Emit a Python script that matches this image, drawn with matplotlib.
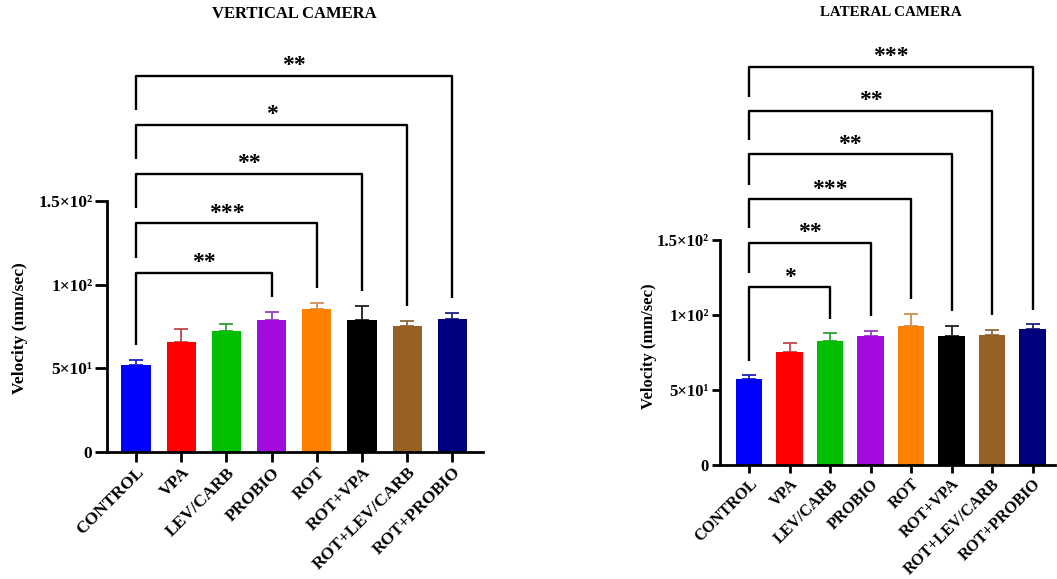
import matplotlib
matplotlib.use('Agg')
import matplotlib.pyplot as plt
import numpy as np

plt.rcParams['font.family'] = ['Liberation Serif', 'DejaVu Serif']
plt.rcParams['font.weight'] = 'bold'

groups = ['CONTROL', 'VPA', 'LEV/CARB', 'PROBIO', 'ROT', 'ROT+VPA', 'ROT+LEV/CARB', 'ROT+PROBIO']
bar_colors = ['#0000FF', '#FF0000', '#00BF00', '#A30BDE', '#FF8000', '#000000', '#956223', '#00007F']
err_colors = ['#2020C0', '#C04848', '#30A030', '#9040C0', '#D09050', '#202020', '#8A6A40', '#202080']

# vertical camera
vert_mean = [52.0, 65.9, 72.5, 78.9, 85.2, 78.9, 75.3, 79.5]
vert_sem = [3.0, 7.5, 4.0, 4.9, 4.0, 8.3, 3.1, 3.3]
vert_pairs = [3, 4, 5, 6, 7]            # each compared with CONTROL
vert_stars = ['**', '***', '**', '*', '**']
vert_levels = [107.0, 136.6, 166.0, 195.3, 224.6]

# lateral camera
lat_mean = [57.3, 75.1, 82.9, 86.0, 92.9, 86.2, 86.9, 90.9]
lat_sem = [2.5, 6.0, 4.9, 3.6, 8.0, 6.7, 3.3, 2.9]
lat_pairs = [2, 3, 4, 5, 6, 7]
lat_stars = ['*', '**', '***', '**', '**', '***']
lat_levels = [118.5, 148.2, 177.3, 207.1, 236.0, 265.5]

yticks = [0, 50, 100, 150]
ytick_labels = ['0', '5×10¹', '1×10²', '1.5×10²']


def draw_panel(ax, mean, sem, pairs, stars, levels, gap, ytop, xlim,
               fs, xfs, ytick_len, xtick_len, star_off):
    x = np.arange(len(groups))
    ax.bar(x, mean, width=0.65, color=bar_colors, linewidth=0, zorder=2)
    for i in range(len(groups)):
        ax.errorbar(x[i], mean[i], yerr=[[0], [sem[i]]], color=err_colors[i],
                    capsize=5, elinewidth=1.3, capthick=1.3, zorder=1)

    # significance brackets against CONTROL
    tops = np.array(mean) + np.array(sem)
    prev = tops[0]
    for j, lev, s in zip(pairs, levels, stars):
        ax.plot([0, 0, j, j], [prev + gap, lev, lev, tops[j] + gap],
                color='black', lw=1.7, solid_capstyle='butt', clip_on=False)
        ax.text(j / 2, lev + star_off, s, ha='center', va='baseline',
                fontsize=17, fontweight='bold')
        prev = lev

    ax.set_ylim(0, ytop)
    ax.set_xlim(*xlim)
    ax.set_yticks(yticks)
    ax.set_yticklabels(ytick_labels, fontsize=fs, fontweight='bold')
    ax.set_xticks(x)
    ax.set_xticklabels(groups, rotation=45, ha='right', va='top',
                       rotation_mode='anchor', fontsize=xfs, fontweight='bold')
    ax.spines['top'].set_visible(False)
    ax.spines['right'].set_visible(False)
    ax.spines['left'].set_bounds(0, 150)
    ax.spines['left'].set_linewidth(2)
    ax.spines['bottom'].set_linewidth(2)
    ax.tick_params(axis='y', length=ytick_len, width=2, pad=2)
    ax.tick_params(axis='x', length=xtick_len, width=2, pad=2)
    ax.set_ylabel('Velocity (mm/sec)', fontsize=fs, fontweight='bold')


fig = plt.figure(figsize=(10.57, 5.79), dpi=100)

ax1 = fig.add_axes([107 / 1057, 127 / 579, 376 / 1057, 412 / 579])
draw_panel(ax1, vert_mean, vert_sem, vert_pairs, vert_stars, vert_levels,
           gap=9.0, ytop=246, xlim=(-0.642, 7.677), fs=12.5, xfs=12.5,
           ytick_len=8.5, xtick_len=7, star_off=2.7)
ax1.yaxis.set_label_coords(-0.21, 0.3)

ax2 = fig.add_axes([720 / 1057, 114 / 579, 335 / 1057, 425 / 579])
draw_panel(ax2, lat_mean, lat_sem, lat_pairs, lat_stars, lat_levels,
           gap=9.5, ytop=283.3, xlim=(-0.716, 7.555), fs=12, xfs=11.6,
           ytick_len=6, xtick_len=6, star_off=3.0)
ax2.yaxis.set_label_coords(-0.188, 0.28)

fig.text(294 / 1057, 1 - 14 / 579, 'VERTICAL CAMERA', ha='center', va='center',
         fontsize=12, fontweight='bold')
fig.text(891 / 1057, 1 - 12 / 579, 'LATERAL CAMERA', ha='center', va='center',
         fontsize=10.8, fontweight='bold')

fig.savefig('out.png', dpi=100)
